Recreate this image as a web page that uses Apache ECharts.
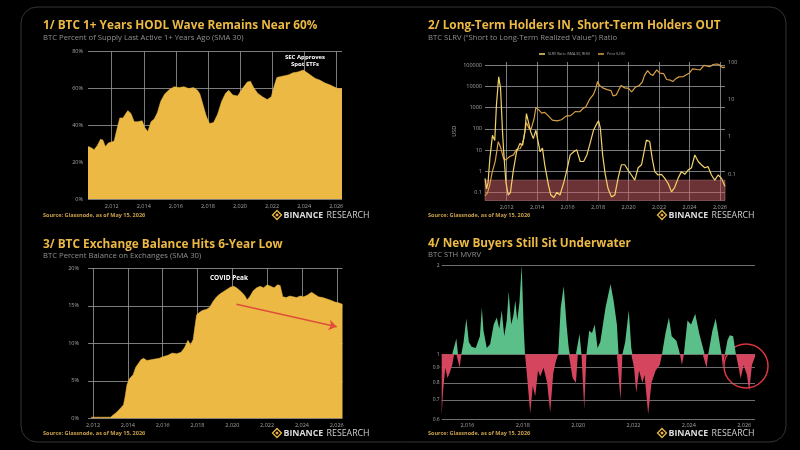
<!DOCTYPE html>
<html>
<head>
<meta charset="utf-8">
<script src="https://cdn.jsdelivr.net/npm/echarts@6/dist/echarts.min.js"></script>
<style>
html,body{margin:0;padding:0;background:#000;}
#show{width:800px;height:450px;}
</style>
</head>
<body>
<div id="show"></div>
<script>
var yearTicks = [2012, 2014, 2016, 2018, 2020, 2022, 2024, 2026];
var mvrvYearTicks = [2016, 2018, 2020, 2022, 2024, 2026];
var priceTicks = [0.1, 1, 10, 100, 1000, 10000, 100000];
var slrvTicks = [0.1, 1, 10, 100];
var mvrvTicks = [0.6, 0.7, 0.8, 0.9, 1, 2];

// 1/ % of supply last active 1+ years ago
var hodlWave = [
    [2010.52, 28.5], [2010.7, 28], [2010.9, 26.8], [2011.1, 29], [2011.3, 32.5], [2011.45, 32],
    [2011.6, 28.5], [2011.8, 30.5], [2012.0, 31], [2012.15, 31.5], [2012.3, 37], [2012.5, 44],
    [2012.7, 44], [2012.85, 46], [2013.0, 48], [2013.2, 46.5], [2013.4, 42], [2013.6, 42],
    [2013.9, 42.5], [2014.05, 39], [2014.25, 36.6], [2014.45, 42], [2014.65, 43.5], [2014.85, 47],
    [2015.05, 53], [2015.3, 57], [2015.6, 59.5], [2015.9, 61], [2016.2, 60.5], [2016.5, 61],
    [2016.8, 60], [2017.1, 60.5], [2017.35, 59], [2017.5, 57], [2017.7, 51], [2017.9, 45],
    [2018.1, 41], [2018.35, 41.5], [2018.6, 46], [2018.85, 53], [2019.1, 57.5], [2019.3, 59],
    [2019.55, 56.5], [2019.85, 56], [2020.15, 60], [2020.45, 63.5], [2020.65, 64], [2020.85, 60.5],
    [2021.1, 57.5], [2021.4, 55.5], [2021.7, 54], [2021.95, 55.5], [2022.15, 62], [2022.3, 66],
    [2022.55, 66.5], [2022.8, 67], [2023.05, 67.5], [2023.3, 68.5], [2023.6, 69], [2023.95, 70],
    [2024.2, 68.5], [2024.45, 67], [2024.7, 65.5], [2025.0, 64.5], [2025.3, 63], [2025.6, 62],
    [2025.85, 61], [2026.1, 60], [2026.36, 60]
];

// 2/ SLRV ratio (RHS) and BTC price in USD (LHS)
var slrvRatio = [
    [2010.58, 0.078], [2010.68, 0.041], [2010.78, 0.06], [2010.9, 0.27], [2011.07, 1.1], [2011.22, 0.8],
    [2011.33, 7], [2011.48, 40], [2011.6, 20], [2011.73, 1.4], [2011.82, 0.33], [2011.95, 0.063],
    [2012.1, 0.028], [2012.25, 0.033], [2012.43, 0.12], [2012.65, 0.4], [2012.87, 0.67], [2013.05, 0.6],
    [2013.2, 1.4], [2013.3, 4.2], [2013.42, 2.6], [2013.57, 1.4], [2013.75, 0.9], [2013.92, 1.5],
    [2014.05, 0.8], [2014.2, 0.4], [2014.35, 0.5], [2014.5, 0.18], [2014.75, 0.05], [2014.9, 0.028],
    [2015.1, 0.024], [2015.3, 0.033], [2015.5, 0.028], [2015.75, 0.06], [2015.97, 0.14], [2016.17, 0.33],
    [2016.4, 0.4], [2016.6, 0.45], [2016.83, 0.22], [2017.05, 0.22], [2017.27, 0.33], [2017.5, 0.74],
    [2017.7, 1.5], [2017.93, 2.3], [2018.03, 2.7], [2018.15, 1.7], [2018.3, 0.33], [2018.47, 0.1],
    [2018.66, 0.041], [2018.88, 0.025], [2019.1, 0.028], [2019.31, 0.078], [2019.53, 0.18], [2019.75, 0.18],
    [2019.97, 0.13], [2020.19, 0.096], [2020.41, 0.07], [2020.63, 0.15], [2020.85, 0.18], [2021.02, 0.4],
    [2021.17, 0.82], [2021.39, 0.75], [2021.55, 0.27], [2021.72, 0.118], [2021.94, 0.096], [2022.16, 0.1],
    [2022.38, 0.078], [2022.6, 0.057], [2022.82, 0.034], [2023.03, 0.045], [2023.25, 0.078], [2023.47, 0.118],
    [2023.69, 0.1], [2023.91, 0.13], [2024.13, 0.15], [2024.35, 0.33], [2024.57, 0.22], [2024.78, 0.18],
    [2025.0, 0.15], [2025.22, 0.16], [2025.44, 0.096], [2025.66, 0.07], [2025.88, 0.096], [2026.1, 0.078],
    [2026.33, 0.047]
];
var btcPrice = [
    [2010.58, 0.07], [2010.75, 0.1], [2010.9, 0.25], [2011.05, 0.9], [2011.25, 3], [2011.45, 25],
    [2011.6, 14], [2011.8, 4], [2011.95, 3.5], [2012.2, 5], [2012.45, 6], [2012.65, 11],
    [2012.9, 12], [2013.1, 30], [2013.3, 200], [2013.45, 110], [2013.6, 95], [2013.8, 300],
    [2013.92, 1000], [2014.1, 800], [2014.3, 550], [2014.5, 600], [2014.75, 400], [2015.0, 260],
    [2015.3, 240], [2015.6, 270], [2015.9, 400], [2016.2, 420], [2016.5, 650], [2016.8, 640],
    [2017.0, 900], [2017.2, 1100], [2017.45, 2500], [2017.7, 4200], [2017.85, 8000], [2017.97, 17000],
    [2018.1, 11000], [2018.3, 8500], [2018.6, 7000], [2018.85, 6300], [2018.98, 3600], [2019.2, 4000],
    [2019.5, 11000], [2019.75, 8500], [2020.0, 8000], [2020.2, 5500], [2020.45, 9200], [2020.7, 11000],
    [2020.9, 16000], [2021.05, 33000], [2021.25, 55000], [2021.45, 37000], [2021.6, 33000], [2021.85, 60000],
    [2022.05, 42000], [2022.3, 40000], [2022.5, 21000], [2022.75, 19500], [2022.9, 16800], [2023.1, 23000],
    [2023.3, 28000], [2023.6, 29000], [2023.85, 37000], [2024.0, 43000], [2024.2, 66000], [2024.5, 62000],
    [2024.7, 60000], [2024.95, 97000], [2025.2, 88000], [2025.35, 85000], [2025.55, 107000], [2025.75, 113000],
    [2025.9, 110000], [2026.05, 88000], [2026.2, 76000], [2026.33, 80000]
];

// 3/ % balance on exchanges
var exchangeBalance = [
    [2011.9, 0.15], [2012.5, 0.15], [2013.0, 0.15], [2013.1, 0.4], [2013.35, 0.8], [2013.6, 1.4],
    [2013.75, 1.8], [2013.85, 3.0], [2013.95, 4.5], [2014.1, 5.3], [2014.3, 5.8], [2014.45, 6.8],
    [2014.6, 7.3], [2014.75, 7.8], [2014.9, 8.0], [2015.1, 7.7], [2015.3, 7.8], [2015.55, 7.9],
    [2015.8, 8.0], [2016.0, 8.2], [2016.3, 8.4], [2016.55, 8.7], [2016.8, 8.6], [2017.05, 8.8],
    [2017.25, 9.4], [2017.45, 10.4], [2017.6, 9.8], [2017.75, 10.5], [2017.85, 12.2], [2017.95, 13.8],
    [2018.1, 14.1], [2018.3, 14.4], [2018.5, 14.5], [2018.7, 14.8], [2018.9, 15.6], [2019.1, 16.2],
    [2019.3, 16.6], [2019.5, 16.9], [2019.7, 17.2], [2019.9, 17.5], [2020.1, 17.6], [2020.3, 17.3],
    [2020.5, 16.9], [2020.7, 16.4], [2020.85, 15.8], [2021.0, 16.2], [2021.2, 17.0], [2021.4, 17.4],
    [2021.6, 17.6], [2021.8, 17.4], [2022.0, 17.8], [2022.2, 17.6], [2022.4, 17.4], [2022.6, 17.8],
    [2022.75, 17.7], [2022.9, 16.2], [2023.1, 16.1], [2023.3, 16.3], [2023.5, 16.2], [2023.7, 16.1],
    [2023.9, 16.3], [2024.1, 16.2], [2024.3, 16.4], [2024.55, 16.8], [2024.75, 16.5], [2024.95, 16.2],
    [2025.2, 16.1], [2025.45, 15.9], [2025.7, 15.7], [2025.9, 15.5], [2026.1, 15.4], [2026.33, 15.2]
];
var arrowFrom = [2020.24, 15.2];
var arrowTo = [2026.0, 12.2];

// 4/ STH MVRV
var sthMvrv = [
    [2015.07, 0.62], [2015.12, 0.75], [2015.2, 0.9], [2015.28, 0.83], [2015.37, 0.87], [2015.45, 0.92],
    [2015.52, 1.0], [2015.6, 1.13], [2015.66, 1.0], [2015.72, 0.9], [2015.78, 1.0], [2015.86, 1.1],
    [2015.96, 1.32], [2016.05, 1.1], [2016.15, 1.06], [2016.3, 1.05], [2016.45, 1.15], [2016.52, 1.44],
    [2016.58, 1.2], [2016.7, 1.05], [2016.82, 1.08], [2016.95, 1.26], [2017.06, 1.33], [2017.15, 1.22],
    [2017.24, 1.41], [2017.33, 1.15], [2017.42, 1.3], [2017.49, 1.63], [2017.58, 1.26], [2017.66, 1.35],
    [2017.73, 1.52], [2017.8, 1.3], [2017.88, 1.5], [2017.96, 2.0], [2018.03, 1.25], [2018.08, 1.0],
    [2018.15, 0.85], [2018.27, 0.63], [2018.36, 0.78], [2018.45, 0.72], [2018.55, 0.88], [2018.63, 0.84],
    [2018.75, 0.9], [2018.88, 0.8], [2018.99, 0.635], [2019.1, 0.86], [2019.2, 0.95], [2019.28, 1.0],
    [2019.37, 1.44], [2019.48, 1.7], [2019.58, 1.26], [2019.66, 1.05], [2019.7, 1.0], [2019.8, 0.83],
    [2019.92, 0.8], [2019.99, 1.0], [2020.05, 1.17], [2020.12, 1.0], [2020.22, 0.65], [2020.3, 1.0],
    [2020.4, 1.2], [2020.5, 1.18], [2020.6, 1.26], [2020.7, 1.05], [2020.8, 1.1], [2020.99, 1.44],
    [2021.17, 1.73], [2021.28, 1.52], [2021.4, 1.26], [2021.46, 1.0], [2021.53, 0.7], [2021.6, 1.0],
    [2021.7, 1.1], [2021.83, 1.41], [2021.92, 1.05], [2021.96, 1.0], [2022.02, 0.9], [2022.1, 0.74],
    [2022.2, 0.88], [2022.32, 0.8], [2022.4, 0.85], [2022.53, 0.626], [2022.65, 0.8], [2022.8, 0.88],
    [2022.95, 0.92], [2023.03, 1.0], [2023.15, 1.17], [2023.28, 1.33], [2023.38, 1.15], [2023.55, 1.11],
    [2023.68, 1.0], [2023.75, 0.92], [2023.82, 1.0], [2023.95, 1.3], [2024.08, 1.26], [2024.23, 1.37],
    [2024.38, 1.17], [2024.5, 1.06], [2024.57, 1.0], [2024.64, 0.9], [2024.7, 1.0], [2024.85, 1.2],
    [2024.97, 1.32], [2025.1, 1.11], [2025.18, 1.0], [2025.23, 0.9], [2025.3, 1.0], [2025.4, 1.12],
    [2025.48, 1.16], [2025.6, 1.15], [2025.7, 1.0], [2025.8, 0.9], [2025.87, 0.826], [2025.98, 0.92],
    [2026.1, 0.85], [2026.18, 0.75], [2026.28, 0.92], [2026.39, 0.98]
];

var FONT = '"Open Sans", "Noto Sans", sans-serif';
var gold = '#EBB944';
var gridColor = '#9c9c9c';
var labelColor = '#a3a3a3';

function lg(v) { return Math.log10(v); }
function toLog(arr) { return arr.map(function (p) { return [p[0], lg(p[1])]; }); }
function powLabel(v) { return String(+Math.pow(10, v).toPrecision(1)); }

var myChart = echarts.init(document.getElementById('show'));

function xAx(grid, min, max, ticks, showSplit, margin) {
    return {
        type: 'value', gridIndex: grid, min: min, max: max,
        axisLine: {show: false},
        axisTick: {show: false, customValues: ticks},
        axisLabel: {customValues: ticks, color: labelColor, fontSize: 5.5, fontFamily: FONT, margin: margin},
        splitLine: {show: showSplit, lineStyle: {color: gridColor, width: 0.8}}
    };
}

function text(x, y, str, font, color, align) {
    return {
        type: 'text', x: x, y: y, silent: true,
        style: {text: str, font: font, fill: color, textAlign: align || 'left', align: align || 'left',
            textVerticalAlign: 'middle', verticalAlign: 'middle'}
    };
}

function logo(x, y) {
    return [
        {type: 'polygon', shape: {points: [[x, y - 4.5], [x + 4.5, y], [x, y + 4.5], [x - 4.5, y]]},
            style: {fill: 'none', stroke: gold, lineWidth: 1.3}, silent: true},
        {type: 'polygon', shape: {points: [[x, y - 1.8], [x + 1.8, y], [x, y + 1.8], [x - 1.8, y]]},
            style: {fill: gold}, silent: true},
        {type: 'text', x: x + 6.5, y: y, silent: true,
            style: {text: '{b|BINANCE} {r|RESEARCH}', verticalAlign: 'middle', textVerticalAlign: 'middle',
                rich: {b: {font: 'bold 8.8px ' + FONT, fill: '#dcdcdc'}, r: {font: '8.8px ' + FONT, fill: '#cfcfcf'}}}}
    ];
}

var titleFont = 'bold 11.8px ' + FONT;
var subFont = '7.7px ' + FONT;
var srcFont = 'bold 5.5px ' + FONT;
var subColor = '#8f8f8f';
var srcText = 'Source: Glassnode, as of May 15, 2026';

var graphics = [
    {type: 'rect', shape: {x: 21, y: 7, width: 765, height: 435, r: 16},
        style: {fill: 'none', stroke: '#343434', lineWidth: 1}, silent: true},
    text(43, 26, '1/ BTC 1+ Years HODL Wave Remains Near 60%', titleFont, gold),
    text(43, 38.3, 'BTC Percent of Supply Last Active 1+ Years Ago (SMA 30)', subFont, subColor),
    text(428, 26, '2/ Long-Term Holders IN, Short-Term Holders OUT', titleFont, gold),
    text(428, 38.3, 'BTC SLRV (\u201CShort to Long-Term Realized Value\u201D) Ratio', subFont, subColor),
    text(43, 244.5, '3/ BTC Exchange Balance Hits 6-Year Low', titleFont, gold),
    text(43, 255.7, 'BTC Percent Balance on Exchanges (SMA 30)', subFont, subColor),
    text(428, 244, '4/ New Buyers Still Sit Underwater', titleFont, gold),
    text(428, 254.5, 'BTC STH MVRV', subFont, subColor),
    text(43, 215, srcText, srcFont, '#C9A04A'),
    text(428, 215, srcText, srcFont, '#C9A04A'),
    text(43, 433, srcText, srcFont, '#C9A04A'),
    text(428, 433, srcText, srcFont, '#C9A04A'),
    text(305, 57.3, 'SEC Approves', 'bold 6px ' + FONT, '#ffffff', 'center'),
    text(305, 64.3, 'Spot ETFs', 'bold 6px ' + FONT, '#ffffff', 'center'),
    text(229, 277.7, 'COVID Peak', 'bold 6.5px ' + FONT, '#ffffff', 'center'),
    {type: 'circle', shape: {cx: 746, cy: 366, r: 22}, style: {fill: 'none', stroke: '#D8353D', lineWidth: 1.5}, silent: true}
].concat(logo(277, 215), logo(662, 215), logo(277, 433), logo(662, 433));

var option = {
    backgroundColor: '#000',
    animation: false,
    legend: {
        data: ['SLRV Ratio (SMA 30, RHS)', 'Price (LHS)'],
        left: 534, top: 47, icon: 'rect', itemWidth: 6, itemHeight: 1.5, itemGap: 8,
        textStyle: {color: '#a8a8a8', fontSize: 3.6, fontFamily: FONT, padding: [0, 0, 0, -2]}
    },
    grid: [
        {left: 88, top: 51.7, width: 254, height: 147.3, containLabel: false, outerBoundsMode: 'none'},
        {left: 485, top: 62, width: 240, height: 138.5, containLabel: false, outerBoundsMode: 'none'},
        {left: 88, top: 268.3, width: 254.5, height: 150, containLabel: false, outerBoundsMode: 'none'},
        {left: 441.7, top: 265.3, width: 313.3, height: 154.4, containLabel: false, outerBoundsMode: 'none'}
    ],
    xAxis: [
        xAx(0, 2010.52, 2026.36, yearTicks, true, 4),
        xAx(1, 2010.58, 2026.33, yearTicks, true, 4),
        xAx(2, 2011.71, 2026.33, yearTicks, true, 4),
        xAx(3, 2015.07, 2026.39, mvrvYearTicks, false, 3)
    ],
    yAxis: [
        {type: 'value', gridIndex: 0, min: 0, max: 80, interval: 20,
            axisLine: {show: false}, axisTick: {show: false},
            axisLabel: {formatter: '{value}%', color: labelColor, fontSize: 5.5, fontFamily: FONT, margin: 5},
            splitLine: {lineStyle: {color: gridColor, width: 0.8}}},
        {type: 'value', gridIndex: 1, min: lg(0.043), max: lg(140000),
            name: 'USD', nameLocation: 'middle', nameGap: 28, nameRotate: 90,
            nameTextStyle: {color: labelColor, fontSize: 5.5, fontFamily: FONT},
            axisLine: {show: false},
            axisTick: {show: false, customValues: priceTicks.map(lg)},
            axisLabel: {customValues: priceTicks.map(lg), formatter: powLabel, color: labelColor, fontSize: 5.5, fontFamily: FONT, margin: 3},
            splitLine: {lineStyle: {color: gridColor, width: 0.8}}},
        {type: 'value', gridIndex: 1, position: 'right', min: lg(0.02), max: 2,
            axisLine: {show: false},
            axisTick: {show: false, customValues: slrvTicks.map(lg)},
            axisLabel: {customValues: slrvTicks.map(lg), formatter: powLabel, color: labelColor, fontSize: 5.5, fontFamily: FONT, margin: 3},
            splitLine: {show: false}},
        {type: 'value', gridIndex: 2, min: 0, max: 20, interval: 5,
            axisLine: {show: false}, axisTick: {show: false},
            axisLabel: {formatter: '{value}%', color: labelColor, fontSize: 5.5, fontFamily: FONT, margin: 9},
            splitLine: {lineStyle: {color: gridColor, width: 0.8}}},
        {type: 'value', gridIndex: 3, min: lg(0.6), max: lg(2),
            axisLine: {show: false},
            axisTick: {show: false, customValues: mvrvTicks.map(lg)},
            axisLabel: {customValues: mvrvTicks.map(lg), formatter: powLabel, color: labelColor, fontSize: 5, fontFamily: FONT, margin: 2},
            splitLine: {lineStyle: {color: '#8a8a8a', width: 0.8}}}
    ],
    series: [
        {type: 'line', xAxisIndex: 0, yAxisIndex: 0, data: hodlWave, symbol: 'none', smooth: false,
            lineStyle: {width: 0.5, color: gold}, areaStyle: {color: gold, opacity: 1}},
        {name: 'Price (LHS)', type: 'line', xAxisIndex: 1, yAxisIndex: 1, data: toLog(btcPrice), symbol: 'none',
            color: '#D89F45', lineStyle: {width: 1.2, color: '#D89F45'}},
        {name: 'SLRV Ratio (SMA 30, RHS)', type: 'line', xAxisIndex: 1, yAxisIndex: 2, data: toLog(slrvRatio), symbol: 'none',
            color: '#F3D26C', lineStyle: {width: 1.2, color: '#F3D26C'}},
        {type: 'line', xAxisIndex: 1, yAxisIndex: 2, data: [], z: 5, silent: true,
            markArea: {silent: true,
                itemStyle: {color: 'rgba(196,92,98,0.55)', borderColor: 'rgba(230,150,150,0.7)', borderWidth: 0.6},
                data: [[{yAxis: lg(0.02)}, {yAxis: lg(0.07)}]]}},
        {type: 'line', xAxisIndex: 2, yAxisIndex: 3, data: exchangeBalance, symbol: 'none',
            lineStyle: {width: 0.5, color: gold}, areaStyle: {color: gold, opacity: 1},
            markLine: {silent: true, symbol: ['none', 'arrow'], symbolSize: 8,
                label: {show: false}, lineStyle: {color: '#E04E3A', width: 1.5, type: 'solid'},
                data: [[{coord: arrowFrom}, {coord: arrowTo}]]}},
        {type: 'line', xAxisIndex: 3, yAxisIndex: 4, symbol: 'none',
            data: sthMvrv.map(function (p) { return [p[0], Math.max(lg(p[1]), 0)]; }),
            lineStyle: {width: 0}, areaStyle: {color: '#5BBF89', opacity: 1}},
        {type: 'line', xAxisIndex: 3, yAxisIndex: 4, symbol: 'none',
            data: sthMvrv.map(function (p) { return [p[0], Math.min(lg(p[1]), 0)]; }),
            lineStyle: {width: 0}, areaStyle: {color: '#D5455E', opacity: 1}}
    ],
    graphic: graphics
};
myChart.setOption(option);
</script>
</body>
</html>
